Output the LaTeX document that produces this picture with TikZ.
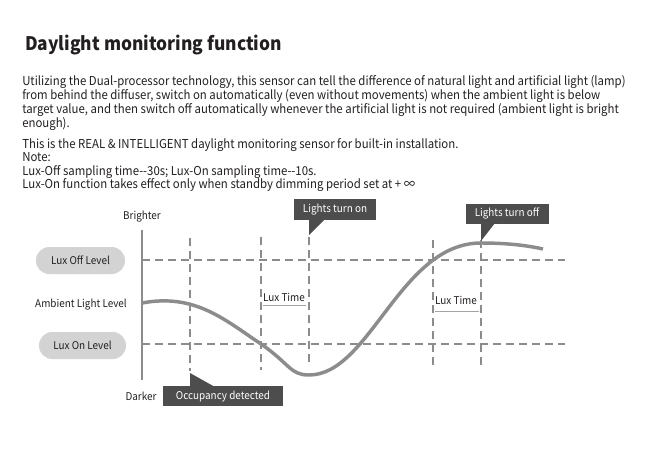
\documentclass[tikz,border=0pt]{standalone}
\usepackage{fontspec}
\setmainfont{Noto Sans CJK SC}[FakeStretch=0.93]
\definecolor{textgray}{HTML}{231F20}
\definecolor{linegray}{HTML}{8C8C8C}
\definecolor{levelgray}{HTML}{D3D3D3}
\definecolor{calloutgray}{HTML}{4D4D4D}
\tikzset{
  level/.style={fill=levelgray, rounded corners=10pt, minimum height=20.25pt, text=textgray, font=\fontsize{8}{10}\selectfont},
  label/.style={text=textgray, font=\fontsize{8}{10}\selectfont},
  callout/.style={fill=calloutgray, text=white, minimum height=15.5pt, inner sep=0pt, font=\fontsize{8}{10}\selectfont},
  guide/.style={draw=linegray, line width=1.5pt, dash pattern=on 6pt off 3.75pt},
  curve/.style={draw=linegray, line width=2.6pt},
  luxline/.style={draw=linegray!80, line width=0.7pt}
}
\begin{document}
\begin{tikzpicture}[x=0.75pt, y=0.75pt, yscale=-1]
    % page
    \fill[white] (0, 0) rectangle (650, 472);
    \useasboundingbox (0, 0) rectangle (650, 472);
    % title
    \node[anchor=base west, inner sep=0pt, text=textgray, font=\fontsize{14}{17}\bfseries] (title) at (25, 50) {Daylight monitoring function};
    % description
    \node[anchor=north west, inner sep=0pt, align=left, text=textgray, font=\fontsize{9.2}{10.5}\selectfont] (intro) at (22, 75) {Utilizing the Dual-processor technology, this sensor can tell the difference of natural light and artificial light (lamp)\\from behind the diffuser, switch on automatically (even without movements) when the ambient light is below\\target value, and then switch off automatically whenever the artificial light is not required (ambient light is bright\\enough).};
    % notes
    \node[anchor=north west, inner sep=0pt, align=left, text=textgray, font=\fontsize{9.2}{10.2}\selectfont] (notes) at (22, 138) {This is the REAL \& INTELLIGENT daylight monitoring sensor for built-in installation.\\Note:\\Lux-Off sampling time-{}-30s; Lux-On sampling time-{}-10s.\\Lux-On function takes effect only when standby dimming period set at + ∞};
    % axis
    \draw[draw=linegray, line width=2.2pt] (142, 230) -- (142, 380);
    \node[label] (brighter) at (142, 217) {Brighter};
    \node[label] (darker) at (141, 396) {Darker};
    % levels
    \node[level, minimum width=66.75pt] (luxoff) at (80.5, 260.5) {Lux Off Level};
    \node[label] (ambient) at (81, 305) {Ambient Light Level};
    \node[level, minimum width=65.25pt] (luxon) at (82.5, 345.5) {Lux On Level};
    % level lines
    \draw[guide] (142, 260) -- (565, 260);
    \draw[guide] (142, 344) -- (565, 344);
    % time lines
    \draw[guide] (190, 238) -- (190, 371);
    \draw[guide] (261, 237) -- (261, 370);
    \draw[guide] (309, 237) -- (309, 364);
    \draw[guide] (433, 240) -- (433, 365);
    \draw[guide] (481, 240) -- (481, 367);
    % ambient light
    \draw[curve] (142, 303) .. controls (195, 293) and (225, 320) .. (261, 344)
        .. controls (290, 364) and (290, 375) .. (309, 375)
        .. controls (370, 375) and (400, 243) .. (481, 243)
        .. controls (505, 243) and (525, 245) .. (543, 249);
    % lux time
    \node[label] (luxtime1) at (284, 297) {Lux Time};
    \draw[luxline] (263, 305) -- (306, 305);
    \node[label] (luxtime2) at (456, 300) {Lux Time};
    \draw[luxline] (435, 311) -- (479, 311);
    % lights turn on
    \node[callout, minimum width=61.5pt] (turnon) at (335, 209.5) {Lights turn on};
    \coordinate (ontip) at (309, 235);
    \fill[calloutgray] (ontip) -- (309, 219) -- (325, 219) -- cycle;
    % lights turn off
    \node[callout, minimum width=62.25pt] (turnoff) at (507, 214) {Lights turn off};
    \coordinate (offtip) at (481, 241);
    \fill[calloutgray] (offtip) -- (481, 223) -- (495, 223) -- cycle;
    % occupancy detected
    \node[callout, minimum width=90pt] (occupancy) at (223, 396) {Occupancy detected};
    \coordinate (occtip) at (190, 373);
    \fill[calloutgray] (occtip) -- (190, 387) -- (215, 387) -- cycle;
\end{tikzpicture}
\end{document}
